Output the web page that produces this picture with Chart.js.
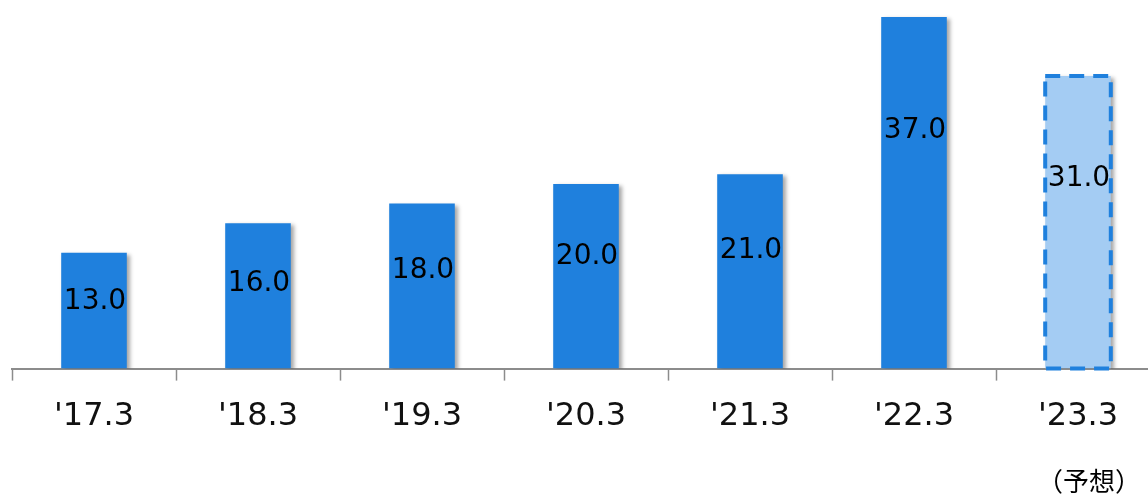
<!DOCTYPE html>
<html>
<head>
<meta charset="utf-8">
<script src="https://cdn.jsdelivr.net/npm/chart.js@4"></script>
<style>
  html, body { margin: 0; padding: 0; background: #fff; overflow: hidden; }
  #wrap { width: 1160px; height: 495px; }
</style>
</head>
<body>
<div id="wrap"><canvas id="myChart"></canvas></div>
<script>
const ctx = document.getElementById('myChart');

const periods = ["'17.3", "'18.3", "'19.3", "'20.3", "'21.3", "'22.3", "'23.3"];
const amounts = [13.0, 16.0, 18.0, 20.0, 21.0, 37.0, 31.0];
const forecastIndex = 6;
const forecastNote = '（予想）';

const yMin = 1.2;
const yMax = 38.73;

const solidBlue = '#1f80dd';
const paleBlue = '#a4ccf3';

const barColors = amounts.map((v, i) => i === forecastIndex ? paleBlue : solidBlue);

// soft drop shadow behind the bars
const barShadow = {
    id: 'barShadow',
    beforeDatasetsDraw(chart) {
        const c = chart.ctx;
        c.save();
        c.shadowColor = 'rgba(0,0,0,0.35)';
        c.shadowBlur = 4;
        c.shadowOffsetX = 3;
        c.shadowOffsetY = 2;
    },
    afterDatasetsDraw(chart) {
        chart.ctx.restore();
    }
};

// dashed outline on the forecast bar, value labels, note under the last period
const barDecor = {
    id: 'barDecor',
    afterDatasetsDraw(chart) {
        const c = chart.ctx;
        const meta = chart.getDatasetMeta(0);
        const bar = meta.data[forecastIndex];
        const half = bar.width / 2;

        c.save();
        c.strokeStyle = solidBlue;
        c.lineWidth = 4;
        c.setLineDash([15, 9]);
        c.strokeRect(bar.x - half, bar.y, bar.width, bar.base - bar.y);
        c.restore();

        c.save();
        c.fillStyle = '#000';
        c.font = '28px "DejaVu Sans", Verdana, sans-serif';
        c.textAlign = 'center';
        c.textBaseline = 'middle';
        meta.data.forEach((el, i) => {
            const h = el.base - el.y;
            const frac = 0.52 + 0.0042 * amounts[i];
            c.fillText(amounts[i].toFixed(1), el.x + 1, el.base - h * frac);
        });

        c.font = '26px "Noto Sans CJK JP", sans-serif';
        c.fillText(forecastNote, bar.x + 11, 481);
        c.restore();
    }
};

const data = {
    labels: periods,
    datasets: [{
        data: amounts,
        base: yMin,
        backgroundColor: barColors,
        borderWidth: 0,
        barPercentage: 0.4,
        categoryPercentage: 1.0
    }]
};

const config = {
    type: 'bar',
    data: data,
    options: {
        responsive: true,
        maintainAspectRatio: false,
        animation: false,
        layout: { padding: { left: 12, right: 0, top: 0, bottom: 42 } },
        plugins: {
            legend: { display: false },
            tooltip: { enabled: false }
        },
        scales: {
            x: {
                grid: {
                    display: true,
                    offset: true,
                    drawOnChartArea: false,
                    drawTicks: true,
                    tickLength: 12,
                    tickWidth: 1.5,
                    tickColor: '#8c8c8c'
                },
                border: { display: true, color: '#8c8c8c', width: 2 },
                ticks: {
                    color: '#111',
                    padding: 17,
                    font: { family: '"DejaVu Sans", Verdana, sans-serif', size: 32 }
                }
            },
            y: {
                display: false,
                min: yMin,
                max: yMax
            }
        }
    },
    plugins: [barShadow, barDecor]
};

const chart = new Chart(ctx, config);
</script>
</body>
</html>
